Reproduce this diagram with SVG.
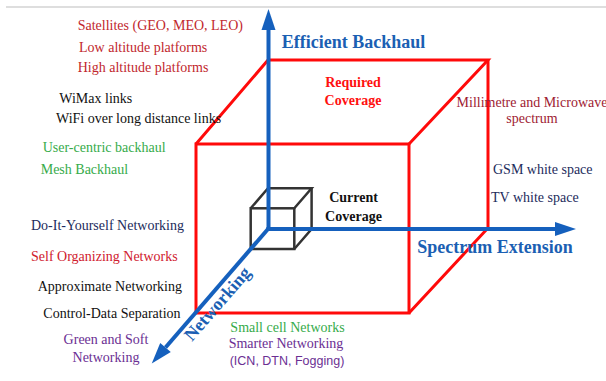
<svg xmlns="http://www.w3.org/2000/svg" width="606" height="381" viewBox="0 0 606 381">
<style>
text{font-family:"Liberation Serif","Times New Roman",serif;font-size:14px}
.b{font-weight:bold}
.ax{font-weight:bold;font-size:18px;fill:#1b5fb3}
.dred{fill:#c1272d}
.crim{fill:#9e1b32}
.blk{fill:#111}
.grn{fill:#36ab4a}
.navy{fill:#1d2b5c}
.red{fill:#d0202e}
.pur{fill:#6b2f93}
.sans{font-family:"Liberation Sans",Arial,sans-serif;font-size:12.5px}
.cube{fill:none;stroke:#ff0a0a;stroke-width:3;stroke-linejoin:miter}
.small{fill:none;stroke:#333;stroke-width:2.5;stroke-linejoin:miter}
.axis{fill:none;stroke:#1560bd;stroke-width:4}
</style>
<defs>
<marker id="ah" markerUnits="userSpaceOnUse" markerWidth="22" markerHeight="16" refX="0" refY="7" orient="auto" overflow="visible">
<path d="M0,0 L21,7 L0,14 z" fill="#1560bd"/>
</marker>
</defs>
<rect width="606" height="381" fill="#fff"/>
<line x1="6" y1="7" x2="606" y2="7" stroke="#bdbdbd" stroke-width="1"/>

<g id="required-cube">
<rect class="cube" x="196" y="144" width="213" height="169"/>
<path class="cube" d="M196,144 L268,60 L488,60 L409,144"/>
<path class="cube" d="M488,60 L488,228 L409,313"/>
</g>

<g id="current-cube">
<rect class="small" x="250.7" y="208.3" width="43.6" height="40.7"/>
<path class="small" d="M250.7,208.3 L268,188.3 L311.6,188.3 L294.3,208.3"/>
<path class="small" d="M311.6,188.3 L311.6,229 L294.3,249"/>
</g>

<g id="connectors">
<line class="axis" x1="268.5" y1="231" x2="268.5" y2="30" marker-end="url(#ah)"/>
<line class="axis" x1="266.5" y1="229" x2="555" y2="229" marker-end="url(#ah)"/>
<line class="axis" x1="269.3" y1="227.5" x2="165.5" y2="347.5" marker-end="url(#ah)"/>
</g>

<g id="axis-efficient-backhaul"><text class="ax" x="281.7" y="47.5">Efficient Backhaul</text></g>
<g id="axis-spectrum-extension"><text class="ax" x="417.3" y="252.7">Spectrum Extension</text></g>
<g id="axis-networking"><text class="ax" transform="translate(192,342) rotate(-49)">Networking</text></g>

<g id="required-coverage">
<text class="b" x="353" y="86.7" text-anchor="middle" font-size="15" fill="#ff1010">Required</text>
<text class="b" x="353" y="105.3" text-anchor="middle" font-size="15" fill="#ff1010">Coverage</text>
</g>
<g id="current-coverage">
<text class="b blk" x="353.5" y="202.3" text-anchor="middle" font-size="15">Current</text>
<text class="b blk" x="353.5" y="220.7" text-anchor="middle" font-size="15">Coverage</text>
</g>

<g id="backhaul-satellites">
<text class="dred" x="77.7" y="30">Satellites (GEO, MEO, LEO)</text>
<text class="dred" x="79" y="51.7">Low altitude platforms</text>
<text class="dred" x="77.7" y="71.7">High altitude platforms</text>
</g>
<g id="backhaul-wifi">
<text class="blk" x="59.3" y="102.7">WiMax links</text>
<text class="blk" x="56" y="123.3">WiFi over long distance links</text>
</g>
<g id="backhaul-mesh">
<text class="grn" x="42.7" y="152.3">User-centric backhaul</text>
<text class="grn" x="40.7" y="174.3">Mesh Backhaul</text>
</g>

<g id="spectrum-mmwave">
<text class="crim" x="532" y="107.3" text-anchor="middle">Millimetre and Microwave</text>
<text class="crim" x="532" y="123.3" text-anchor="middle">spectrum</text>
</g>
<g id="spectrum-whitespace">
<text class="navy" x="493" y="174">GSM white space</text>
<text class="navy" x="491" y="202">TV white space</text>
</g>

<g id="net-diy"><text class="navy" x="31" y="230">Do-It-Yourself Networking</text></g>
<g id="net-son"><text class="red" x="31" y="261">Self Organizing Networks</text></g>
<g id="net-approx"><text class="blk" x="37.7" y="290.7">Approximate Networking</text></g>
<g id="net-cds"><text class="blk" x="43.3" y="317.7">Control-Data Separation</text></g>
<g id="net-green">
<text class="pur" x="106" y="344" text-anchor="middle">Green and Soft</text>
<text class="pur" x="106" y="361.7" text-anchor="middle">Networking</text>
</g>
<g id="net-smallcell"><text class="grn" x="287.5" y="332.3" text-anchor="middle" font-size="15.5">Small cell Networks</text></g>
<g id="net-smarter">
<text class="pur" x="286" y="348.3" text-anchor="middle">Smarter Networking</text>
<text class="pur sans" x="287" y="365" text-anchor="middle">(ICN, DTN, Fogging)</text>
</g>
</svg>
